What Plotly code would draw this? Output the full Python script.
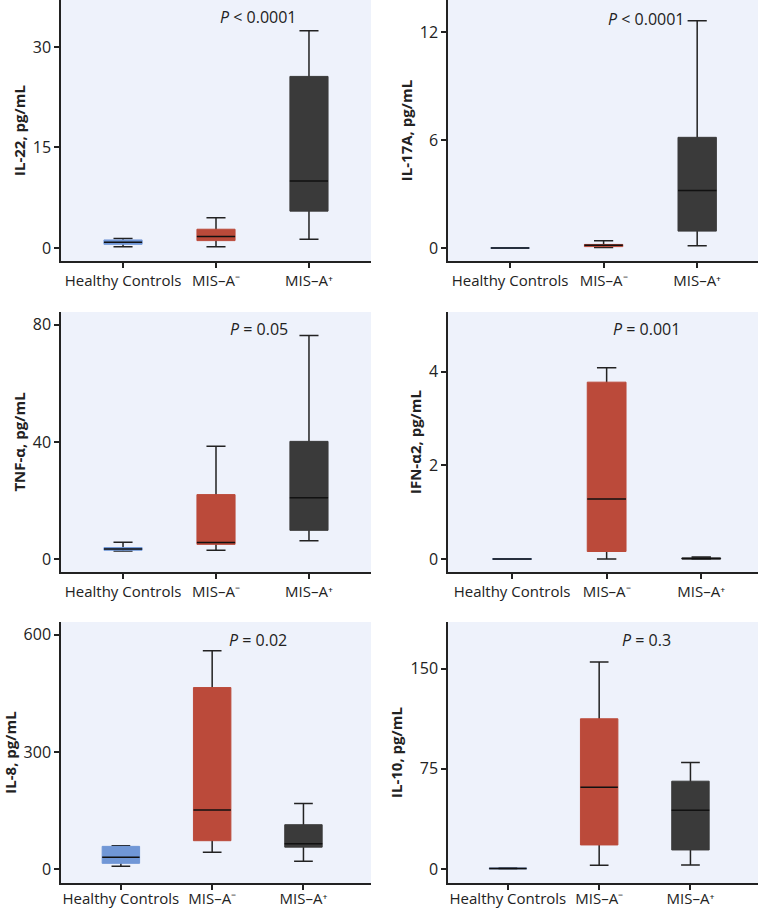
import plotly.graph_objects as go

W, H = 763, 909

CATEGORIES = ["Healthy Controls", "MIS\u2013A\u207b", "MIS\u2013A\u207a"]
GROUP_COLORS = ["#7097d6", "#bb4a3a", "#3a3a3a"]

# Box statistics per cytokine: [Healthy Controls, MIS-A-, MIS-A+]
IL22_LOW = [0.2, 0.2, 1.3]
IL22_Q1 = [0.55, 1.1, 5.5]
IL22_MED = [0.85, 1.7, 10.0]
IL22_Q3 = [1.2, 2.8, 25.6]
IL22_HIGH = [1.4, 4.5, 32.4]

IL17A_LOW = [0.0, 0.03, 0.13]
IL17A_Q1 = [0.0, 0.08, 0.94]
IL17A_MED = [0.0, 0.15, 3.19]
IL17A_Q3 = [0.0, 0.2, 6.15]
IL17A_HIGH = [0.0, 0.4, 12.63]

TNF_LOW = [2.7, 3.0, 6.2]
TNF_Q1 = [3.0, 5.0, 9.8]
TNF_MED = [3.4, 5.6, 20.9]
TNF_Q3 = [3.9, 22.0, 40.2]
TNF_HIGH = [5.7, 38.5, 76.4]

IFN_LOW = [0.0, 0.0, 0.0]
IFN_Q1 = [0.0, 0.16, 0.0]
IFN_MED = [0.0, 1.28, 0.01]
IFN_Q3 = [0.0, 3.78, 0.02]
IFN_HIGH = [0.0, 4.09, 0.04]

IL8_LOW = [6.8, 42.7, 19.6]
IL8_Q1 = [14.5, 72.5, 56.0]
IL8_MED = [30.0, 151.0, 65.0]
IL8_Q3 = [58.0, 465.0, 113.5]
IL8_HIGH = [59.7, 559.0, 168.0]

IL10_LOW = [0.1, 2.75, 3.0]
IL10_Q1 = [0.2, 18.0, 14.25]
IL10_MED = [0.4, 61.3, 44.0]
IL10_Q3 = [0.6, 112.5, 65.75]
IL10_HIGH = [0.8, 155.0, 79.75]

Y_TITLES = ["IL-22, pg/mL", "IL-17A, pg/mL", "TNF-\u03b1, pg/mL",
            "IFN-\u03b12, pg/mL", "IL-8, pg/mL", "IL-10, pg/mL"]
Y_TICKS = [[0, 15, 30], [0, 6, 12], [0, 40, 80], [0, 2, 4], [0, 300, 600], [0, 75, 150]]
P_LABELS = ["&lt; 0.0001", "&lt; 0.0001", "= 0.05", "= 0.001", "= 0.02", "= 0.3"]

PANELS = [
    (IL22_LOW, IL22_Q1, IL22_MED, IL22_Q3, IL22_HIGH),
    (IL17A_LOW, IL17A_Q1, IL17A_MED, IL17A_Q3, IL17A_HIGH),
    (TNF_LOW, TNF_Q1, TNF_MED, TNF_Q3, TNF_HIGH),
    (IFN_LOW, IFN_Q1, IFN_MED, IFN_Q3, IFN_HIGH),
    (IL8_LOW, IL8_Q1, IL8_MED, IL8_Q3, IL8_HIGH),
    (IL10_LOW, IL10_Q1, IL10_MED, IL10_Q3, IL10_HIGH),
]

# layout geometry (pixels)
COL_X = [(61, 371), (448, 758)]
ROW_Y = [(0, 261), (312, 572), (622, 883)]
Y_RANGES = [[-1.94, 37.0], [-0.72, 13.78], [-4.44, 84.4], [-0.278, 5.28], [-35.9, 633], [-10.5, 185]]
X_RANGES = [[-0.667, 2.667], [-0.663, 2.65], [-0.667, 2.667], [-0.677, 2.6], [-0.656, 2.74], [-0.656, 2.74]]
P_POS = [(258, 17), (646, 19), (259, 329), (646, 329), (258, 640), (646, 640)]
XLABEL_SHIFT = [0, 0, 0, 0, -4, -4]

INK = "#222222"
FONT = "Open Sans"
BOX_W = 0.41

fig = go.Figure()
layout = dict(
    width=W, height=H, margin=dict(l=0, r=0, t=0, b=0, autoexpand=False),
    paper_bgcolor="white", plot_bgcolor="#eef2fb",
    showlegend=False, boxmode="overlay",
    font=dict(family=FONT, color=INK),
    annotations=[],
)

xs = [0, 1, 2]
for i, (low, q1, med, q3, high) in enumerate(PANELS):
    r, c = divmod(i, 2)
    n = i + 1
    xa = "x" if n == 1 else f"x{n}"
    ya = "y" if n == 1 else f"y{n}"
    # whiskers (black), body hidden under filled box
    fig.add_trace(go.Box(
        x=xs, q1=med, median=med, q3=med, lowerfence=low, upperfence=high,
        width=BOX_W, whiskerwidth=0.5, fillcolor="rgba(0,0,0,0)",
        line=dict(color=INK, width=1.5), xaxis=xa, yaxis=ya, hoverinfo="skip",
        boxpoints=False))
    # filled boxes
    for g in range(3):
        fig.add_trace(go.Box(
            x=[g], q1=[q1[g]], median=[med[g]], q3=[q3[g]],
            lowerfence=[q1[g]], upperfence=[q3[g]],
            width=BOX_W, whiskerwidth=0, fillcolor=GROUP_COLORS[g],
            line=dict(color=GROUP_COLORS[g], width=1), xaxis=xa, yaxis=ya,
            hoverinfo="skip", boxpoints=False))
    # median lines
    fig.add_trace(go.Box(
        x=xs, q1=med, median=med, q3=med, lowerfence=med, upperfence=med,
        width=BOX_W, whiskerwidth=0, fillcolor="rgba(0,0,0,0)",
        line=dict(color="#111111", width=1.5), xaxis=xa, yaxis=ya, hoverinfo="skip",
        boxpoints=False))

    x0, x1 = COL_X[c]
    y0, y1 = ROW_Y[r]
    xkey = "xaxis" if n == 1 else f"xaxis{n}"
    ykey = "yaxis" if n == 1 else f"yaxis{n}"
    layout[xkey] = dict(
        domain=[x0 / W, x1 / W], anchor=ya, range=X_RANGES[i],
        tickvals=xs, ticktext=CATEGORIES, showgrid=False, zeroline=False,
        showline=True, linecolor=INK, linewidth=1.5,
        ticks="outside", ticklen=5, tickwidth=1.5, tickcolor=INK,
        ticklabelstandoff=XLABEL_SHIFT[i],
        tickfont=dict(family=FONT, size=15, color=INK), fixedrange=True)
    layout[ykey] = dict(
        domain=[1 - y1 / H, 1 - y0 / H], anchor=xa, range=Y_RANGES[i],
        tickvals=Y_TICKS[i], showgrid=False, zeroline=False,
        showline=True, linecolor=INK, linewidth=1.5,
        ticks="outside", ticklen=5, tickwidth=1.5, tickcolor=INK,
        tickfont=dict(family=FONT, size=16, color=INK),
        title=dict(text=f"<b>{Y_TITLES[i]}</b>", font=dict(family=FONT, size=15, color=INK),
                   standoff=4),
        fixedrange=True)
    px, py = P_POS[i]
    layout["annotations"].append(dict(
        x=px / W, y=1 - py / H, xref="paper", yref="paper",
        text=f"<i>P</i> {P_LABELS[i]}", showarrow=False,
        font=dict(family=FONT, size=16, color=INK),
        xanchor="center", yanchor="middle"))

fig.update_layout(**layout)
fig.write_html("out.html", config={"displayModeBar": False},
               post_script="document.body.style.margin='0';document.body.style.overflow='hidden';")
